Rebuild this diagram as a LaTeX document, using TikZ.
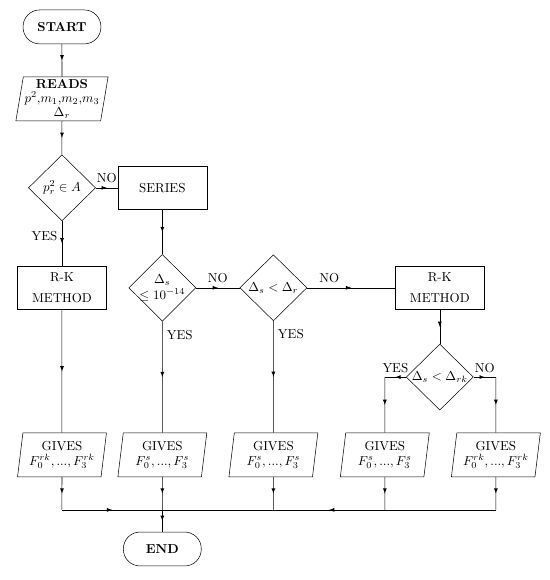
\documentclass[tikz,border=0pt]{standalone}
\usepackage{amsmath}
\usepackage{tikz}
\usetikzlibrary{arrows, shapes, decorations.markings}

\begin{document}
\begin{tikzpicture}[
    terminal/.style={rectangle, rounded corners=0.45cm, draw, minimum width=2.11cm, minimum height=0.92cm, font=\bfseries},
    box/.style={rectangle, draw, minimum width=2.41cm, minimum height=1.19cm, align=center},
    io/.style={trapezium, trapezium left angle=80, trapezium right angle=100, trapezium stretches body, draw, minimum width=2.41cm, minimum height=1.19cm, inner xsep=1pt, inner ysep=1pt, align=center},
    decision/.style={diamond, draw, minimum width=1.82cm, minimum height=1.79cm, inner sep=-1pt, align=center},
    flow/.style={postaction={decorate}, decoration={markings, mark=at position 0.5 with {\arrow{latex}}}}
]
    \useasboundingbox (0, 0) rectangle (14.905, -15.72);

    % Column 1: Input
    \node[terminal] (start) at (1.68, -0.73) {START};
    \node[io] (reads) at (1.68, -2.68) {\textbf{READS}\\[-1pt]$p^2$,$m_1$,$m_2$,$m_3$\\[-1pt]$\Delta_r$};
    \node[decision] (test) at (1.68, -5.09) {$p_r^2 \in A$};
    \node[box] (series) at (4.40, -5.09) {SERIES};

    % Row 2: Methods and tests
    \node[box] (rkleft) at (1.68, -7.80) {R-K\\[4pt]METHOD};
    \node[decision] (conv) at (4.40, -7.80) {$\Delta_s$\\$\leq 10^{-14}$};
    \node[decision] (comp) at (7.41, -7.80) {$\Delta_s < \Delta_r$};
    \node[box] (rkright) at (11.92, -7.80) {R-K\\[4pt]METHOD};
    \node[decision] (choose) at (11.92, -10.22) {$\Delta_s < \Delta_{rk}$};

    % Row 3: Output
    \node[io] (gives1) at (1.68, -12.33) {GIVES\\$F_0^{rk},...,F_3^{rk}$};
    \node[io] (gives2) at (4.40, -12.33) {GIVES\\$F_0^{s},...,F_3^{s}$};
    \node[io] (gives3) at (7.41, -12.33) {GIVES\\$F_0^{s},...,F_3^{s}$};
    \node[io] (gives4) at (10.43, -12.33) {GIVES\\$F_0^{s},...,F_3^{s}$};
    \node[io] (gives5) at (13.44, -12.33) {GIVES\\$F_0^{rk},...,F_3^{rk}$};
    \node[terminal] (end) at (4.40, -14.88) {END};

    % Corners
    \coordinate (yescorner) at (gives4 |- choose);
    \coordinate (nocorner) at (gives5 |- choose);
    \coordinate (join) at (4.40, -13.82);
    \coordinate (bus1) at (gives1 |- join);
    \coordinate (bus3) at (gives3 |- join);
    \coordinate (bus4) at (gives4 |- join);
    \coordinate (bus5) at (gives5 |- join);

    % Arrows
    \draw[flow] (start) -- (reads);
    \draw[flow] (reads) -- (test);
    \draw[flow] (test) -- node[above] {NO} (series);
    \draw[flow] (test) -- node[left, pos=0.33] {YES} (rkleft);
    \draw[flow] (series) -- (conv);
    \draw[flow] (conv) -- node[above] {NO} (comp);
    \draw[flow] (conv) -- node[right, pos=0.12] {YES} (gives2);
    \draw[flow] (comp) -- node[above, pos=0.25] {NO} (rkright);
    \draw[flow] (comp) -- node[right, pos=0.12] {YES} (gives3);
    \draw[flow] (rkleft) -- (gives1);
    \draw[flow] (rkright) -- (choose);
    \draw[flow] (choose) -- node[above] {YES} (yescorner);
    \draw[flow] (yescorner) -- (gives4);
    \draw[flow] (choose) -- node[above] {NO} (nocorner);
    \draw[flow] (nocorner) -- (gives5);

    % Bus to END
    \draw[flow] (gives1) -- (bus1);
    \draw[flow] (gives2) -- (join);
    \draw[flow] (gives3) -- (bus3);
    \draw[flow] (gives4) -- (bus4);
    \draw[flow] (gives5) -- (bus5);
    \draw[flow] (bus1) -- (join);
    \draw[flow] (bus5) -- (join);
    \draw[flow] (join) -- (end);
\end{tikzpicture}
\end{document}
